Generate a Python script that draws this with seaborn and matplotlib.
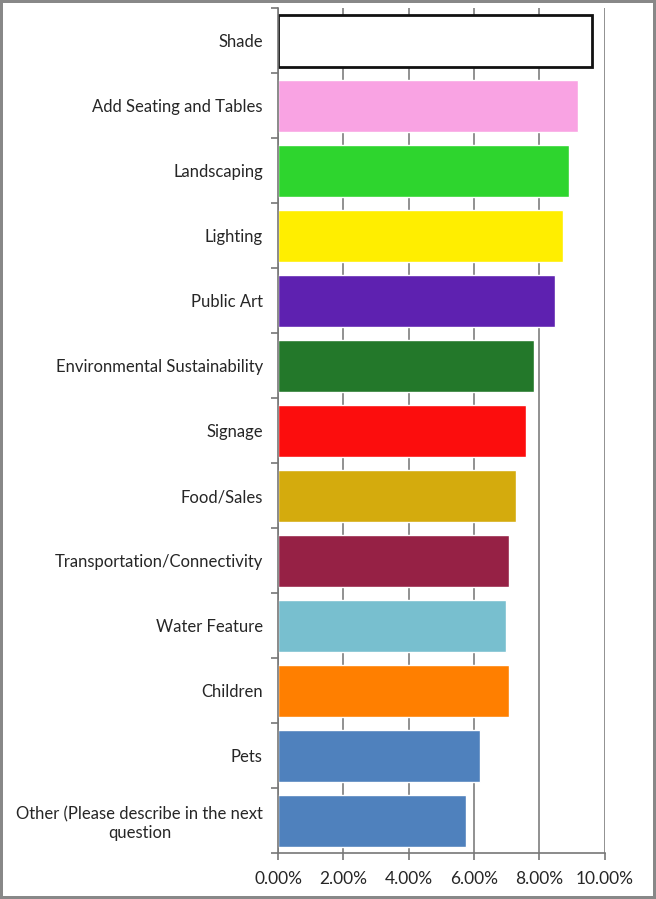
import numpy as np
import pandas as pd
import matplotlib

matplotlib.use('Agg')

import matplotlib.pyplot as plt
import seaborn as sns
from matplotlib.ticker import FuncFormatter

categories = ["Shade", "Add Seating and Tables", "Landscaping", "Lighting",
              "Public Art", "Environmental Sustainability", "Signage",
              "Food/Sales", "Transportation/Connectivity", "Water Feature",
              "Children", "Pets", "Other (Please describe in the next\nquestion"]
shares = [9.60, 9.17, 8.91, 8.71, 8.47, 7.84, 7.59, 7.29, 7.06, 6.96, 7.06, 6.18, 5.75]
colors = ["#FFFFFF", "#F9A3E3", "#2ED52E", "#FFEE00", "#5E21B0", "#23782A",
          "#FC0D0D", "#D4AB0D", "#962145", "#78BFCF", "#FF7F00", "#4F81BD", "#4F81BD"]

sns.set_style("white")
plt.rcParams['font.family'] = ['Lato', 'DejaVu Sans']

df = pd.DataFrame({'Category': categories, 'Share': shares})

fig = plt.figure(figsize=(6.56, 8.99), dpi=100)
ax = fig.add_axes([0.424, 0.051, 0.498, 0.940])

sns.barplot(data=df, x='Share', y='Category', hue='Category',
            palette=dict(zip(categories, colors)), legend=False,
            width=0.8, saturation=1, ax=ax)

# shade bar is outlined
ax.patches[0].set_edgecolor('#111111')
ax.patches[0].set_linewidth(2)

ax.set_xlim(0, 10)
ax.set_xticks([0, 2, 4, 6, 8, 10])
ax.xaxis.set_major_formatter(FuncFormatter(lambda v, p: f"{v:.2f}%"))
ax.set_ylim(len(categories) - 0.5, -0.5)
ax.set_yticks(np.arange(len(categories) + 1) - 0.5, minor=True)
ax.set_yticks(np.arange(len(categories)))
ax.set_yticklabels(categories, multialignment='center')
ax.tick_params(axis='y', which='major', length=0, pad=11, labelsize=12)
ax.tick_params(axis='y', which='minor', length=5, color='#777777', width=1.2, left=True)
ax.tick_params(axis='x', length=5, color='#777777', width=1.2, labelsize=12.5, pad=8, bottom=True)

ax.grid(axis='x', color='#888888', linewidth=1.3)
ax.set_axisbelow(True)
ax.set_xlabel("")
ax.set_ylabel("")
for side in ['top', 'right']:
    ax.spines[side].set_visible(False)
for side in ['left', 'bottom']:
    ax.spines[side].set_color('#777777')
    ax.spines[side].set_linewidth(1.2)

fig.patch.set_edgecolor('#888888')
fig.patch.set_linewidth(3)

plt.savefig("out.png", dpi=100)
